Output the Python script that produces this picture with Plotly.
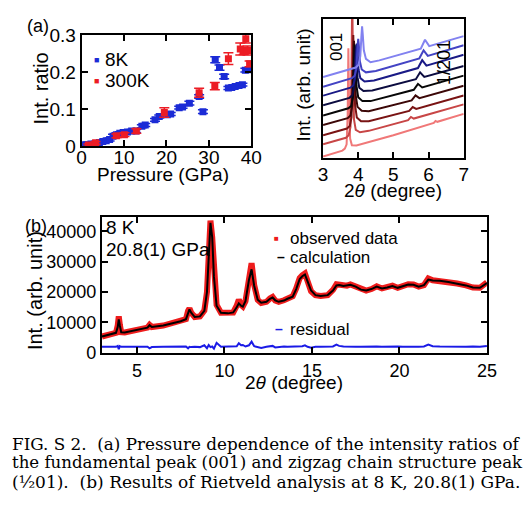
import plotly.graph_objects as go

W, H = 528, 514
def fx(x): return x / W
def fy(y): return 1 - y / H

SANS = "Liberation Sans, Arial, sans-serif"
SERIF = "DejaVu Serif, serif"

# ---------------- Panel (a) left: intensity ratio vs pressure ----------------
p_8k = [0.3, 1.2, 2.2, 3.2, 4.2, 5.0, 5.8, 6.6, 7.4, 8.2, 9.0, 9.8, 10.8, 11.8, 12.8,
        14.2, 15.0, 17.3, 18.3, 20.2, 21.0, 23.0, 23.8, 25.4, 27.7, 28.6, 31.5, 32.5,
        33.6, 34.6, 35.4, 36.2, 37.1, 37.9, 38.6, 39.3, 39.9]
r_8k = [0.004, 0.004, 0.006, 0.007, 0.010, 0.013, 0.015, 0.018, 0.027, 0.031, 0.035,
        0.037, 0.038, 0.041, 0.041, 0.054, 0.057, 0.071, 0.080, 0.085, 0.087, 0.104,
        0.106, 0.116, 0.134, 0.093, 0.233, 0.212, 0.188, 0.157, 0.158, 0.161, 0.164,
        0.166, 0.205, 0.206, 0.208]
e_8k = [0.004, 0.004, 0.004, 0.004, 0.004, 0.004, 0.004, 0.004, 0.005, 0.005, 0.004,
        0.004, 0.004, 0.004, 0.004, 0.004, 0.004, 0.004, 0.004, 0.004, 0.004, 0.004,
        0.004, 0.005, 0.005, 0.005, 0.008, 0.007, 0.006, 0.004, 0.004, 0.004, 0.004,
        0.004, 0.005, 0.005, 0.005]

p_300k = [1.6, 3.3, 8.2, 10.1, 12.9, 19.5, 27.7, 31.4, 34.6, 37.4, 38.2, 38.7, 39.1, 39.6]
r_300k = [0.003, 0.009, 0.028, 0.031, 0.041, 0.091, 0.144, 0.162, 0.236, 0.262, 0.257,
          0.290, 0.258, 0.222]
e_300k = [0.003, 0.004, 0.005, 0.005, 0.006, 0.013, 0.012, 0.010, 0.016, 0.016, 0.010,
          0.012, 0.012, 0.008]

# ---------------- Panel (a) right: waterfall of diffraction patterns ----------------
wf_x = [
    [3.0, 3.55, 3.62, 3.67, 3.70, 3.72, 3.74, 3.77, 3.82, 3.95, 5.0, 6.15, 6.2, 6.25, 7.0],
    [3.0, 3.65, 3.73, 3.78, 3.81, 3.83, 3.85, 3.88, 3.93, 4.05, 4.3, 5.42, 5.5, 5.58, 7.0],
    [3.0, 3.68, 3.76, 3.81, 3.84, 3.86, 3.88, 3.91, 3.96, 4.08, 4.3, 5.45, 5.55, 5.65, 7.0],
    [3.0, 3.70, 3.78, 3.83, 3.86, 3.88, 3.90, 3.93, 3.98, 4.10, 4.3, 5.52, 5.63, 5.74, 7.0],
    [3.0, 3.72, 3.80, 3.85, 3.88, 3.90, 3.92, 3.95, 4.00, 4.12, 4.35, 5.58, 5.70, 5.82, 7.0],
    [3.0, 3.75, 3.83, 3.88, 3.91, 3.93, 3.95, 3.98, 4.03, 4.15, 4.4, 5.64, 5.76, 5.88, 7.0],
    [3.0, 3.78, 3.86, 3.91, 3.94, 3.96, 3.98, 4.01, 4.06, 4.18, 4.45, 5.70, 5.82, 5.94, 7.0],
    [3.0, 3.82, 3.90, 3.95, 3.98, 4.00, 4.02, 4.05, 4.10, 4.22, 4.5, 5.74, 5.86, 5.98, 7.0],
    [3.0, 3.93, 4.01, 4.06, 4.09, 4.11, 4.13, 4.16, 4.22, 4.35, 4.6, 5.78, 5.90, 6.02, 7.0],
]
wf_y = [
    [1.3, 7.4, 9.5, 14, 45, 114, 55, 20, 13, 12.8, 23.5, 36.3, 38.3, 37.4, 45.7],
    [14, 20.8, 23.5, 32, 90, 175, 95, 40, 29, 26.5, 28, 39.2, 42.5, 40.8, 55.6],
    [23.3, 30.4, 33, 42, 90, 128, 95, 55, 42, 38, 38, 48.8, 52.8, 50.8, 64.9],
    [34, 41.2, 44, 54, 95, 122, 100, 65, 53, 49, 48.5, 59.8, 65, 62.1, 75],
    [44, 51.5, 54, 63, 100, 118, 102, 75, 63, 59, 59, 70.8, 77, 73.3, 85.6],
    [54.7, 62.4, 65, 73, 104, 116, 106, 84, 73, 69.5, 70, 81.8, 89, 84.2, 95.7],
    [64.7, 73, 75.5, 83, 108, 119, 110, 92, 83, 79.5, 80.5, 93.5, 101.7, 96, 107.3],
    [74, 82.9, 85.5, 93, 115, 124, 116, 100, 92, 89, 90.5, 103.6, 111.9, 106.2, 117.2],
    [84, 94, 97, 106, 126, 137, 128, 112, 103, 99.5, 101.5, 113.7, 123, 116.3, 126.8],
]
wf_colors = ["#f07878", "#c84646", "#7a1414", "#3c0808", "#080808",
             "#0c0c40", "#1a1a86", "#4444c4", "#8282f0"]

# ---------------- Panel (b): Rietveld refinement ----------------
tth = [3.0, 3.5, 3.8, 3.9, 3.96, 4.02, 4.1, 4.3, 5.0, 5.6, 5.72, 5.85, 6.5, 7.0, 7.5,
       7.8, 7.92, 8.0, 8.1, 8.3, 8.6, 8.85, 9.0, 9.1, 9.2, 9.3, 9.4, 9.55, 9.8, 10.2,
       10.5, 10.7, 10.82, 10.95, 11.05, 11.2, 11.4, 11.55, 11.7, 11.9, 12.1, 12.4, 12.6,
       12.75, 12.9, 13.1, 13.4, 13.6, 13.9, 14.1, 14.3, 14.45, 14.6, 14.75, 14.95, 15.2,
       15.5, 15.9, 16.2, 16.4, 16.55, 16.8, 17.0, 17.2, 17.5, 17.8, 18.1, 18.4, 18.7,
       19.0, 19.3, 19.6, 19.9, 20.2, 20.5, 20.8, 21.1, 21.4, 21.65, 21.9, 22.3, 22.8,
       23.3, 23.8, 24.2, 24.6, 25.0]
calc = [5400, 6000, 6600, 8500, 11000, 9000, 6800, 6700, 7600, 8300, 9100, 8500, 9000,
        9700, 10400, 11100, 13500, 14300, 13200, 11800, 12000, 13800, 20000, 33000, 42800,
        38000, 25000, 15500, 13200, 13000, 13300, 15000, 16300, 15500, 15200, 17000, 24000,
        27500, 22000, 17500, 16500, 16800, 17800, 18200, 17300, 16800, 17200, 17800, 18500,
        21000, 24300, 25200, 25800, 23500, 20500, 19000, 18700, 19000, 20500, 22200, 22300,
        22000, 22100, 22400, 21800, 20800, 20500, 21000, 21800, 21200, 21500, 22000, 21400,
        22000, 22500, 22400, 21800, 22300, 24100, 23800, 23700, 23300, 22800, 22200, 21500,
        21400, 23000]
obs = [5400, 6000, 6600, 9000, 12000, 9300, 6800, 6700, 7600, 8300, 9200, 8500, 9000,
       9700, 10400, 11100, 13800, 14600, 13200, 11800, 12000, 13900, 20000, 33500, 43500,
       38000, 24800, 15800, 13200, 13000, 13300, 15500, 17500, 15800, 15300, 17000, 25000,
       29500, 22300, 17400, 16400, 16800, 17900, 18400, 17200, 16800, 17300, 17900, 18600,
       21200, 24600, 25500, 26100, 23600, 20300, 19000, 18700, 19000, 20700, 22600, 22400,
       22000, 22100, 22500, 21700, 20800, 20500, 21000, 21900, 21200, 21500, 22100, 21400,
       22000, 22600, 22500, 21800, 22300, 24500, 23900, 23700, 23300, 22800, 22200, 21500,
       21400, 23200]
resid = [2000, 2000, 2000, 2300, 1200, 2200, 2000, 2000, 2000, 2000, 1500, 1900, 2000,
         2000, 2000, 2100, 1500, 2000, 1900, 2000, 1900, 2500, 1500, 2600, 1900, 2100, 1400,
         3300, 2000, 2000, 2000, 2200, 3200, 2500, 2600, 2100, 2500, 3700, 2200, 1800, 1600,
         2000, 2100, 2300, 1800, 2000, 2100, 2000, 2100, 2200, 2300, 2200, 2500, 2000, 1700,
         2000, 2000, 2000, 2100, 2700, 2300, 2100, 2000, 2100, 2000, 2000, 2100, 2000, 2100,
         2000, 2100, 2000, 2100, 2000, 2100, 2000, 2000, 2100, 2700, 2200, 2100, 2000, 2100,
         2000, 2100, 2000, 2300]

BLUE = "#1b2bd6"
RED = "#ec1c24"

fig = go.Figure()

fig.add_trace(go.Scatter(
    x=p_8k, y=r_8k, mode="markers", name="8K",
    marker=dict(symbol="square", size=7, color=BLUE),
    error_y=dict(type="data", array=e_8k, color=BLUE, thickness=1.5, width=5),
    xaxis="x", yaxis="y", showlegend=False))
fig.add_trace(go.Scatter(
    x=p_300k, y=r_300k, mode="markers", name="300K",
    marker=dict(symbol="square", size=7, color=RED),
    error_y=dict(type="data", array=e_300k, color=RED, thickness=1.5, width=5),
    xaxis="x", yaxis="y", showlegend=False))

for xs, ys, c in zip(wf_x, wf_y, wf_colors):
    fig.add_trace(go.Scatter(x=xs, y=ys, mode="lines", line=dict(color=c, width=2),
                             xaxis="x2", yaxis="y2", showlegend=False))

fig.add_trace(go.Scatter(x=tth, y=obs, mode="lines", name="observed data",
                         line=dict(color="#ee1c1c", width=6), xaxis="x3", yaxis="y3",
                         showlegend=False))
fig.add_trace(go.Scatter(x=tth, y=calc, mode="lines", name="calculation",
                         line=dict(color="black", width=2), xaxis="x3", yaxis="y3",
                         showlegend=False))
fig.add_trace(go.Scatter(x=tth, y=resid, mode="lines", name="residual",
                         line=dict(color="#1a1ae6", width=2), xaxis="x3", yaxis="y3",
                         showlegend=False))

ax = dict(showline=True, linewidth=2, linecolor="black", mirror="ticks",
          ticks="inside", ticklen=6, tickwidth=2, tickcolor="black",
          showgrid=False, zeroline=False)

fig.update_layout(
    width=W, height=H, margin=dict(l=0, r=0, t=0, b=0),
    paper_bgcolor="white", plot_bgcolor="white", showlegend=False,
    font=dict(family=SANS, color="black", size=19),
    xaxis=dict(domain=[fx(79), fx(254)], range=[0, 40], tickvals=[0, 10, 20, 30, 40],
               anchor="y", tickfont=dict(size=19), ticklabelstandoff=-7, **ax),
    yaxis=dict(domain=[fy(142), fy(26)], range=[0, 0.3], tickvals=[0, 0.1, 0.2, 0.3],
               ticktext=["0", "0.1", "0.2", "0.3"], anchor="x", tickfont=dict(size=19), **ax),
    xaxis2=dict(domain=[fx(328), fx(473)], range=[3, 7], tickvals=[3, 4, 5, 6, 7],
                anchor="y2", tickfont=dict(size=19), ticklabelstandoff=-2, **ax),
    yaxis2=dict(domain=[fy(154), fy(9)], range=[0, 145], anchor="x2",
                showticklabels=False, showline=True, linewidth=2, linecolor="black",
                mirror=True, ticks="", showgrid=False, zeroline=False),
    xaxis3=dict(domain=[fx(100), fx(497)], range=[3, 25], tickvals=[5, 10, 15, 20, 25],
                anchor="y3", tickfont=dict(size=18), **ax),
    yaxis3=dict(domain=[fy(358), fy(216)], range=[-160, 44640],
                tickvals=[0, 10000, 20000, 30000, 40000], tickformat="d", anchor="x3",
                tickfont=dict(size=18), **ax),
)

ann = []
def A(x, y, text, size=19, xanchor="center", yanchor="middle", angle=0, color="black",
      family=SANS):
    ann.append(dict(x=fx(x), y=fy(y), xref="paper", yref="paper", text=text,
                    showarrow=False, xanchor=xanchor, yanchor=yanchor, textangle=angle,
                    font=dict(size=size, color=color, family=family)))

# panel labels
A(21, 17, "(a)", size=18, xanchor="left")
A(19, 225, "(b)", size=18, xanchor="left")

# (a) left titles + legend
A(37, 82, "Int. ratio", size=20, angle=-90)
A(163, 171, "Pressure (GPa)", size=19)
A(94, 52, "■", size=9, color=BLUE)
A(101, 52, "8K", size=19, xanchor="left")
A(94, 74, "■", size=9, color=RED)
A(101, 74, "300K", size=19, xanchor="left")

# (a) right titles
A(308, 78, "Int. (arb. unit)", size=19, angle=-90)
A(400, 188, "2<i>θ</i> (degree)", size=19)
A(342, 39, "001", size=17, angle=-90)
A(452, 55, "1/201", size=18, angle=-90)

# (b)
A(31, 293, "Int. (arb. unit)", size=20, angle=-90)
A(298, 388, "2<i>θ</i> (degree)", size=19)
A(102, 227, "8 K", size=19, xanchor="left")
A(102, 250, "20.8(1) GPa", size=19, xanchor="left")
A(280, 238, "■", size=8, color="#ee1c1c")
A(292, 238, "observed data", size=17, xanchor="left")
A(285, 258, "<b>–</b>", size=14, color="black")
A(292, 258, "calculation", size=17, xanchor="left")
A(283, 333, "<b>–</b>", size=14, color="#1a1ae6")
A(292, 333, "residual", size=17, xanchor="left")

# caption
A(5, 452, "FIG. S 2.  (a) Pressure dependence of the intensity ratios of", size=16.8,
  xanchor="left", family=SERIF)
A(5, 472, "the fundamental peak (001) and zigzag chain structure peak", size=16.6,
  xanchor="left", family=SERIF)
A(5, 492, "(½01).  (b) Results of Rietveld analysis at 8 K, 20.8(1) GPa.", size=17,
  xanchor="left", family=SERIF)

fig.update_layout(annotations=ann)
fig.write_html(
    "out.html",
    config={"displayModeBar": False},
    post_script=("document.body.style.margin='0px';"
                 "document.body.style.overflow='hidden';"
                 "document.documentElement.style.overflow='hidden';"),
)
